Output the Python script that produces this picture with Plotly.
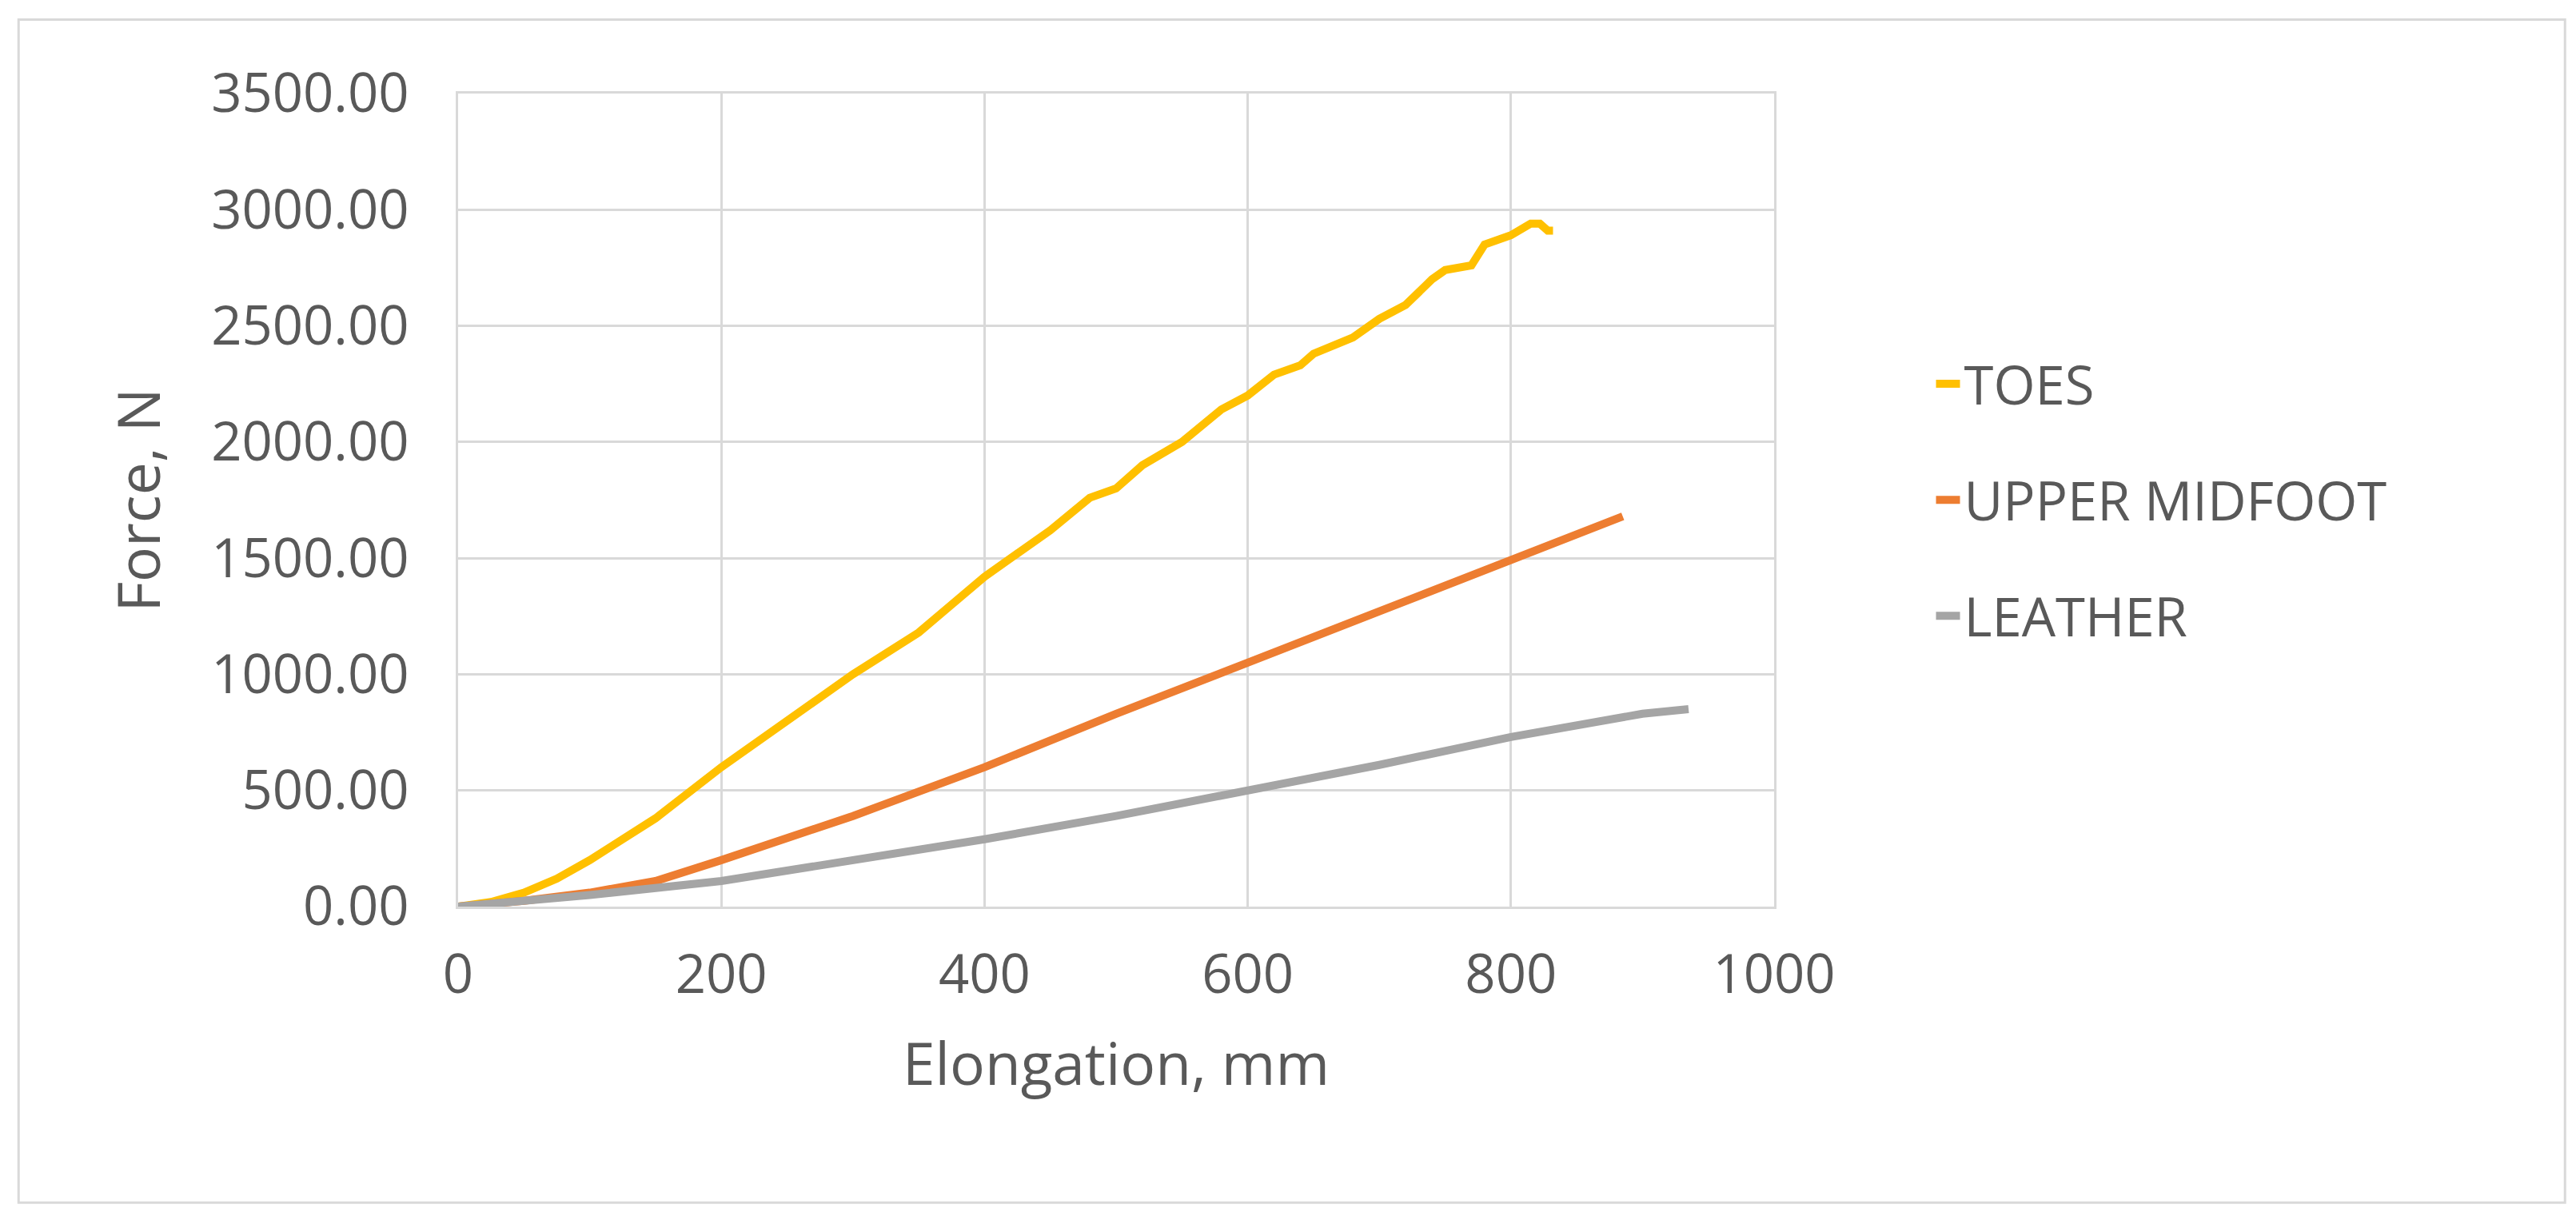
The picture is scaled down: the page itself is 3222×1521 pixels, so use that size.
import plotly.graph_objects as go

toes_x = [0, 25, 50, 75, 100, 150, 200, 250, 300, 350, 380, 400, 450, 480, 500, 520, 550, 580, 600, 620, 640, 650, 680, 700, 720, 740, 750, 770, 780, 800, 815, 822, 828, 832]
toes_y = [0, 20, 60, 120, 200, 380, 600, 800, 1000, 1180, 1320, 1420, 1620, 1760, 1800, 1900, 2000, 2140, 2200, 2290, 2330, 2380, 2450, 2530, 2590, 2700, 2740, 2760, 2850, 2890, 2940, 2940, 2910, 2910]

mid_x = [0, 50, 100, 150, 200, 300, 400, 500, 600, 700, 800, 850, 885]
mid_y = [0, 25, 60, 110, 200, 390, 600, 830, 1050, 1270, 1490, 1600, 1680]

lea_x = [0, 100, 200, 300, 400, 500, 600, 700, 800, 900, 935]
lea_y = [0, 50, 110, 200, 290, 390, 500, 610, 730, 830, 850]

grey = "#595959"
fig = go.Figure()
fig.add_trace(go.Scatter(x=toes_x, y=toes_y, name="TOES", legendgroup="a", mode="lines",
                         line=dict(color="#FFC000", width=10)))
fig.add_trace(go.Scatter(x=mid_x, y=mid_y, name="UPPER MIDFOOT", legendgroup="b", mode="lines",
                         line=dict(color="#ED7D31", width=10)))
fig.add_trace(go.Scatter(x=lea_x, y=lea_y, name="LEATHER", legendgroup="c", mode="lines",
                         line=dict(color="#A5A5A5", width=10)))

fig.update_layout(
    width=3222, height=1521,
    paper_bgcolor="white", plot_bgcolor="white",
    font=dict(family="Open Sans", color=grey, size=67),
    margin=dict(l=565, r=3222 - 2211, t=109, b=1521 - 1126),
    legend=dict(x=1.12, y=0.5, yanchor="middle", font=dict(size=67), tracegroupgap=55,
                bgcolor="rgba(0,0,0,0)"),
    shapes=[dict(type="rect", xref="paper", yref="paper", x0=-0.334, x1=1.601, y0=-0.364, y1=1.091,
                 line=dict(color="#D9D9D9", width=3))],
)
fig.update_xaxes(range=[0, 1000], dtick=200, showgrid=True, gridcolor="#D9D9D9", gridwidth=3,
                 showline=True, linecolor="#D9D9D9", linewidth=3, zeroline=False,
                 title=dict(text="Elongation, mm", font=dict(size=73), standoff=45),
                 ticks="", tickfont=dict(size=67), ticklabelstandoff=25, mirror=True)
fig.update_yaxes(range=[0, 3500], dtick=500, tickformat=".2f", showgrid=True, gridcolor="#D9D9D9", gridwidth=3,
                 showline=True, linecolor="#D9D9D9", linewidth=3, zeroline=False,
                 title=dict(text="Force, N", font=dict(size=73), standoff=40),
                 ticks="", tickfont=dict(size=67), ticklabelstandoff=45, mirror=True)

fig.write_html("out.html")
